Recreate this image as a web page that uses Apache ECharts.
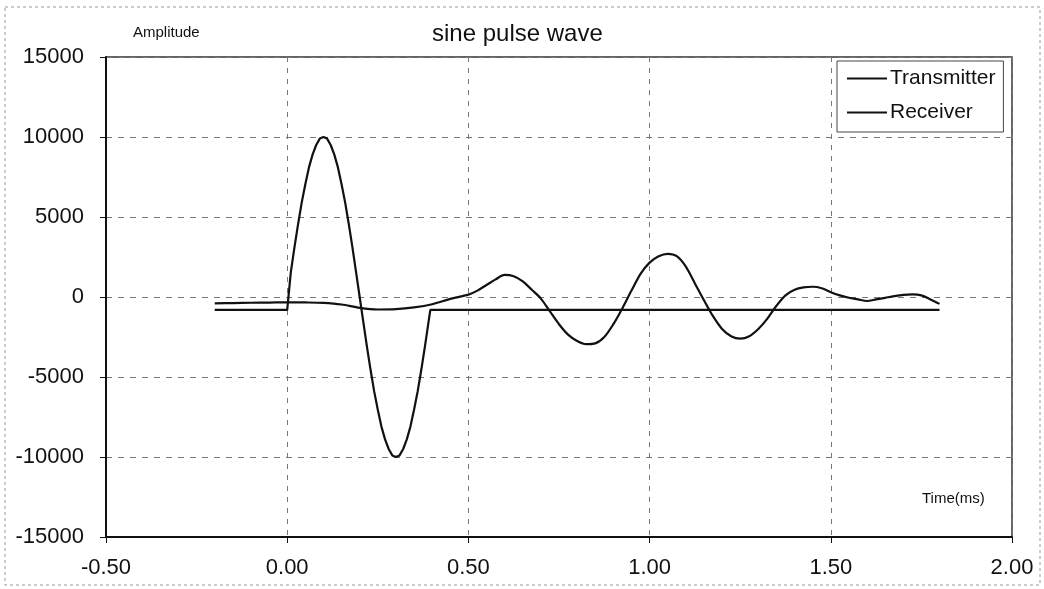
<!DOCTYPE html>
<html>
<head>
<meta charset="utf-8">
<title>sine pulse wave</title>
<script src="https://cdn.jsdelivr.net/npm/echarts@6/dist/echarts.min.js"></script>
<style>
  html, body { margin: 0; padding: 0; background: #ffffff; }
  #chart { width: 1044px; height: 589px; }
</style>
</head>
<body>
<div id="chart"></div>
<script>
// Transmitter: one-cycle sine burst (time in ms, amplitude in counts)
const txTime = [-0.2, 0.0, 0.01, 0.02, 0.03, 0.04, 0.05, 0.06, 0.07, 0.08, 0.09, 0.10,
  0.11, 0.12, 0.13, 0.14, 0.15, 0.16, 0.17, 0.18, 0.19, 0.20,
  0.21, 0.22, 0.23, 0.24, 0.25, 0.26, 0.27, 0.28, 0.29, 0.30,
  0.31, 0.32, 0.33, 0.34, 0.35, 0.36, 0.37, 0.38, 0.39, 0.395, 1.8];
const txAmp = [-800, -800, 1550, 3100, 4550, 5900, 7050, 8100, 8900, 9500, 9900, 10000,
  9900, 9500, 8900, 8100, 7050, 5900, 4550, 3100, 1550, 0,
  -1550, -3100, -4550, -5900, -7050, -8100, -8900, -9500, -9900, -10000,
  -9900, -9500, -8900, -8100, -7050, -5900, -4550, -3100, -1550, -800, -800];

// Receiver: ringing response picked up after the burst
const rxTime = [-0.2, -0.15, -0.1, -0.05, 0.0, 0.05, 0.1, 0.15, 0.2, 0.25, 0.3, 0.35, 0.4, 0.45,
  0.5, 0.525, 0.55, 0.575, 0.6, 0.625, 0.65, 0.675, 0.7, 0.725, 0.75, 0.775, 0.8, 0.825, 0.85, 0.875,
  0.9, 0.925, 0.95, 0.975, 1.0, 1.025, 1.05, 1.075, 1.1, 1.125, 1.15, 1.175, 1.2, 1.225, 1.25,
  1.275, 1.3, 1.325, 1.35, 1.375, 1.4, 1.425, 1.45, 1.475, 1.5, 1.525, 1.55, 1.575, 1.6, 1.625,
  1.65, 1.675, 1.7, 1.725, 1.75, 1.775, 1.8];
const rxAmp = [-400, -380, -360, -350, -330, -340, -370, -470, -680, -780, -760, -650, -450, -120,
  150, 400, 750, 1100, 1380, 1300, 980, 450, -100, -900, -1700, -2350, -2750, -2950, -2900, -2500,
  -1700, -700, 400, 1450, 2150, 2550, 2700, 2550, 1900, 850, -200, -1200, -2000, -2450, -2600,
  -2450, -2000, -1350, -550, 100, 450, 600, 640, 550, 300, 100, -50, -150, -250, -150,
  -50, 50, 130, 160, 100, -150, -430];

const seriesNames = ['Transmitter', 'Receiver'];
const xTicks = { min: -0.5, max: 2.0, step: 0.5 };
const yTicks = { min: -15000, max: 15000, step: 5000 };

const pairs = (xs, ys) => xs.map((x, i) => [x, ys[i]]);
const FONT = "'Liberation Sans', Arial, sans-serif";

const chart = echarts.init(document.getElementById('chart'), null, { renderer: 'canvas' });

chart.setOption({
  backgroundColor: '#ffffff',
  animation: false,
  title: {
    text: 'sine pulse wave',
    left: 427,
    top: 17,
    textStyle: { fontFamily: FONT, fontSize: 24, fontWeight: 'normal', color: '#111' }
  },
  legend: {
    data: seriesNames,
    orient: 'vertical',
    left: 837,
    top: 61,
    padding: [7, 8, 9, 10],
    itemGap: 13,
    itemWidth: 40,
    itemHeight: 2,
    icon: 'rect',
    borderColor: '#444',
    borderWidth: 1,
    backgroundColor: '#ffffff',
    textStyle: { fontFamily: FONT, fontSize: 21, color: '#111', padding: [0, 0, 0, -2] }
  },
  grid: {
    left: 106, right: 32, top: 57, bottom: 52,
    show: true,
    borderColor: '#333',
    borderWidth: 1.5
  },
  xAxis: {
    type: 'value',
    min: xTicks.min,
    max: xTicks.max,
    interval: xTicks.step,
    axisLine: { show: true, onZero: false, lineStyle: { color: '#111', width: 2 } },
    axisTick: { show: true, length: 6, lineStyle: { color: '#111' } },
    axisLabel: {
      margin: 20,
      fontFamily: FONT, fontSize: 22, color: '#111',
      formatter: v => v.toFixed(2)
    },
    splitLine: { show: true, lineStyle: { color: '#777', type: [5, 6], width: 1 } }
  },
  yAxis: {
    type: 'value',
    min: yTicks.min,
    max: yTicks.max,
    interval: yTicks.step,
    axisLine: { show: true, onZero: false, lineStyle: { color: '#111', width: 2 } },
    axisTick: { show: true, length: 6, lineStyle: { color: '#111' } },
    axisLabel: {
      margin: 22, fontFamily: FONT, fontSize: 22, color: '#111',
      formatter: v => String(v)
    },
    splitLine: { show: true, lineStyle: { color: '#777', type: [6, 6], width: 1 } }
  },
  graphic: [
    {
      type: 'rect',
      shape: { x: 5, y: 7, width: 1035, height: 578 },
      style: { fill: null, stroke: '#999', lineWidth: 1, lineDash: [3, 3] },
      silent: true, z: -1
    },
    {
      type: 'text', left: 133, top: 25,
      style: { text: 'Amplitude', font: "15px 'Liberation Sans', Arial, sans-serif", fill: '#111' }
    },
    {
      type: 'text', left: 922, top: 491,
      style: { text: 'Time(ms)', font: "15px 'Liberation Sans', Arial, sans-serif", fill: '#111' }
    }
  ],
  series: [
    {
      name: seriesNames[0],
      type: 'line',
      data: pairs(txTime, txAmp),
      showSymbol: false,
      lineStyle: { color: '#111', width: 2.2 },
      itemStyle: { color: '#111' },
      z: 3
    },
    {
      name: seriesNames[1],
      type: 'line',
      data: pairs(rxTime, rxAmp),
      smooth: 0.3,
      showSymbol: false,
      lineStyle: { color: '#111', width: 2.2 },
      itemStyle: { color: '#111' },
      z: 4
    }
  ]
});
</script>
</body>
</html>
